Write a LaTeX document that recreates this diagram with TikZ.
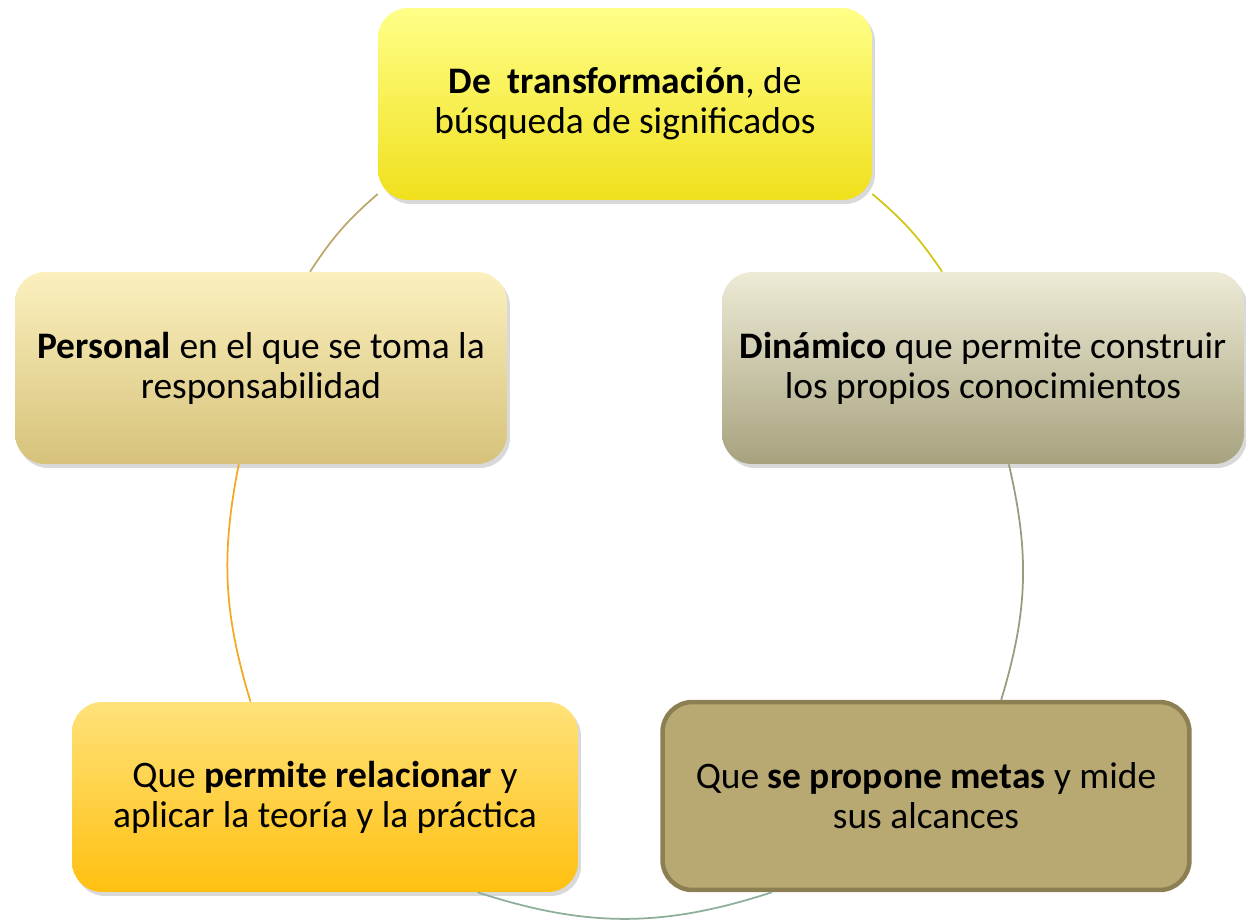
\documentclass[tikz,border=0pt]{standalone}
\usepackage{fontspec}
\setmainfont{Carlito}
\usepackage{xcolor}
\usetikzlibrary{shapes}
\usetikzlibrary{shadows}

\definecolor{topA}{HTML}{FFFF88}
\definecolor{topB}{HTML}{F0E01C}
\definecolor{persA}{HTML}{FBF0BE}
\definecolor{persB}{HTML}{D6C27A}
\definecolor{dinaA}{HTML}{EDEBD6}
\definecolor{dinaB}{HTML}{A7A27E}
\definecolor{relaA}{HTML}{FFE27A}
\definecolor{relaB}{HTML}{FFC010}
\definecolor{metasA}{HTML}{B8A872}
\definecolor{metasB}{HTML}{8C7F52}
\definecolor{arcoA}{HTML}{BBA86A}
\definecolor{arcoB}{HTML}{D4C414}
\definecolor{arcoC}{HTML}{9C9A7C}
\definecolor{arcoD}{HTML}{8DAE98}
\definecolor{arcoE}{HTML}{F7A823}

\begin{document}
\begin{tikzpicture}[x=0.02cm, y=0.02cm,
        caja/.style={rectangle, rounded corners=0.6cm, align=center,
            inner sep=0pt, minimum height=3.84cm,
            font=\fontsize{21.3}{22.8}\selectfont},
        sombra/.style={drop shadow={shadow xshift=0.06cm,
            shadow yshift=-0.08cm, opacity=0.3}},
        arco/.style={line width=0.035cm}]
        \useasboundingbox (0, 0) rectangle (1246, 921);

        \node[caja, sombra, minimum width=9.88cm, top color=topA, bottom color=topB]
            (top) at (625, 817) {\textbf{De\ \ transformación}, de\\búsqueda de significados};
        \node[caja, sombra, minimum width=9.84cm, top color=persA, bottom color=persB]
            (pers) at (261, 553) {\textbf{Personal} en el que se toma la\\responsabilidad};
        \node[caja, sombra, minimum width=10.44cm, top color=dinaA, bottom color=dinaB]
            (dina) at (983, 553) {\textbf{Dinámico} que permite construir\\los propios conocimientos};
        \node[caja, sombra, minimum width=10.12cm, minimum height=3.8cm,
            top color=relaA, bottom color=relaB]
            (rela) at (325, 124) {Que \textbf{permite relacionar} y\\aplicar la teoría y la práctica};
        \node[caja, minimum width=10.54cm, minimum height=3.76cm,
            fill=metasA, draw=metasB, line width=0.09cm]
            (metas) at (926, 125) {Que \textbf{se propone metas} y mide\\sus alcances};

        \draw[arco, arcoA] (pers.63) to[bend left=8] (top.200);
        \draw[arco, arcoB] (top.340) to[bend left=8] (dina.113);
        \draw[arco, arcoC] (dina.285) to[bend left=15] (metas.52);
        \draw[arco, arcoD] (metas.212) to[bend left=18] (rela.328);
        \draw[arco, arcoE] (rela.128) to[bend left=14] (pers.257);
\end{tikzpicture}
\end{document}
